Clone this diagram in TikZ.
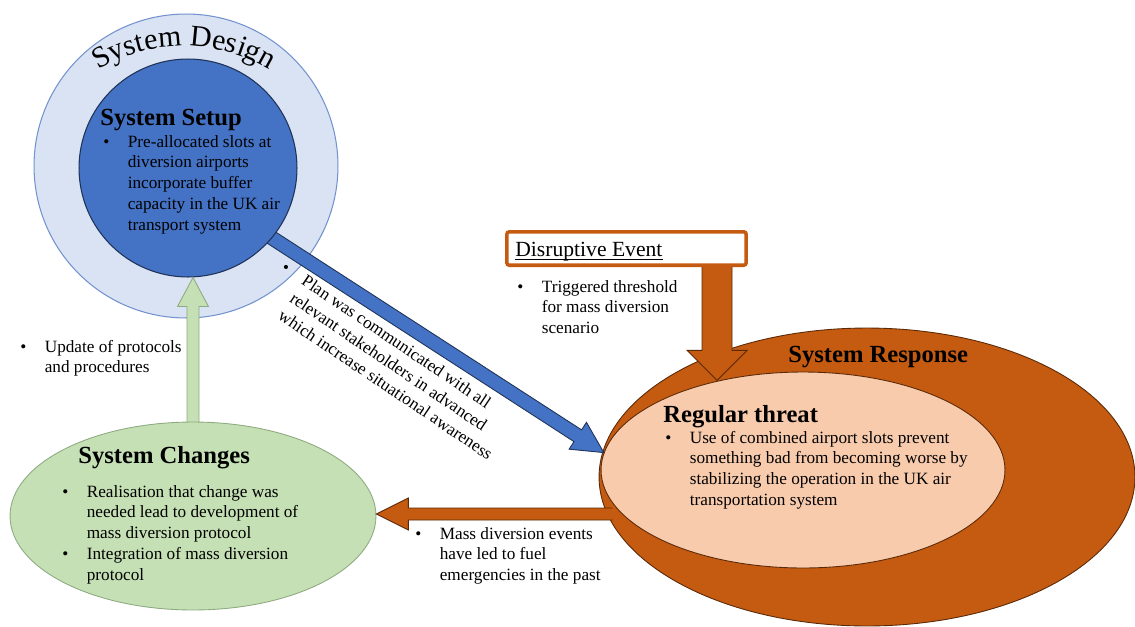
\documentclass[tikz,border=0pt]{standalone}
\usepackage{fontspec}
\setmainfont{Liberation Serif}
\usetikzlibrary{positioning, calc, shapes.geometric, decorations.text}

\definecolor{designfill}{HTML}{DAE3F3}
\definecolor{designdraw}{HTML}{7393CF}
\definecolor{setupblue}{HTML}{4472C4}
\definecolor{setupdraw}{HTML}{1F3358}
\definecolor{changefill}{HTML}{C5E0B4}
\definecolor{changedraw}{HTML}{8FAA80}
\definecolor{rust}{HTML}{C55A11}
\definecolor{rustdraw}{HTML}{5A2A08}
\definecolor{peach}{HTML}{F8CBAD}

% bullet list with hanging text
\newcommand{\blist}[1]{\begin{tabular}[t]{@{}p{0.49cm}@{}l@{}}#1\end{tabular}}
% block arrow: [style]{tail}{tip}{half shaft}{half head}{head length}
\newcommand{\blockarrow}[6][]{%
  \coordinate (ba-b) at ($(#3)!#6!(#2)$);
  \filldraw[#1] ($(#2)!#4!90:(#3)$) -- ($(ba-b)!#4!90:(#3)$) -- ($(ba-b)!#5!90:(#3)$)
    -- (#3) -- ($(ba-b)!#5!-90:(#3)$) -- ($(ba-b)!#4!-90:(#3)$) -- ($(#2)!#4!-90:(#3)$);
}

\begin{document}
\begin{tikzpicture}[
  x=0.02cm, y=0.02cm,
  ring/.style={circle, draw=designdraw, fill=designfill, line width=0.6pt, minimum size=6.08cm, inner sep=0pt},
  core/.style={circle, draw=setupdraw, fill=setupblue, line width=0.6pt, minimum size=4.36cm, inner sep=0pt},
  oval/.style={ellipse, draw=#1, line width=0.5pt, inner sep=0pt},
  eventbox/.style={draw=rust, fill=white, line width=2pt, rounded corners=1.5pt,
                   minimum width=4.79cm, minimum height=0.67cm, inner sep=0pt},
  head/.style={font=\fontsize{14}{16}\selectfont\bfseries, inner sep=0pt, anchor=base west},
  note/.style={font=\fontsize{9.8}{11.9}\selectfont, inner sep=0pt, anchor=base west},
  barr/.style={fill=setupblue, draw=setupdraw, line width=0.5pt},
  garr/.style={fill=changefill, draw=changedraw, line width=0.5pt},
  oarr/.style={fill=rust, draw=rustdraw, line width=0.5pt}
]
\useasboundingbox (0,0) rectangle (1135,-626);

% System design rings and the plan arrow
\node[ring] (design) at (186,-166) {};
\coordinate (btail) at (238,-216);
\node[oval=rustdraw, fill=rust, minimum width=10.72cm, minimum height=5.96cm] (response) at (867,-477) {};
\node[oval=rustdraw, fill=peach, minimum width=8.08cm, minimum height=3.92cm] (threat) at (803,-470) {};
\blockarrow[barr]{btail}{threat.175}{0.14cm}{0.32cm}{0.62cm}
\node[core] (setup) at (188,-168) {};

\path[decorate, decoration={text along path, text align=center,
      text format delimiters={|}{|}, text={|\fontsize{17}{20}\selectfont|System Design}}]
  ($(184,-211)+(133:165)$) arc[start angle=133, end angle=47, radius=165];

% Changes and feedback arrow
\coordinate (gtip) at ($(setup.south)+(5,0)$);
\coordinate (gtail) at (193,-480);
\blockarrow[garr]{gtail}{gtip}{0.12cm}{0.31cm}{0.58cm}
\node[oval=changedraw, fill=changefill, minimum width=7.32cm, minimum height=3.76cm] (changes) at (193,-516) {};

% Disruptive event
\coordinate (dtail) at (717,-250);
\coordinate (dtip) at (dtail |- threat.133);
\blockarrow[oarr]{dtail}{dtip}{0.30cm}{0.60cm}{0.60cm}
\node[eventbox] (event) at (626.5,-248.5) {};

% Response back to changes
\coordinate (ltail) at ($(response.west)+(14,-37)$);
\coordinate (ltip) at (ltail -| changes.east);
\blockarrow[oarr]{ltail}{ltip}{0.12cm}{0.32cm}{0.64cm}

% Titles
\node[head] (setuptitle) at (100,-125) {System Setup};
\node[head] (changestitle) at (78,-463) {System Changes};
\node[head] (responsetitle) at (788,-362) {System Response};
\node[head] (threattitle) at (663,-422) {Regular threat};
\node[inner sep=0pt, anchor=base west, font=\fontsize{12.3}{14}\selectfont] (eventtitle) at (515,-256)
  {Disruptive Event};
\draw[line width=0.5pt] ([yshift=-2.2pt]eventtitle.base west) -- ([yshift=-2.2pt]eventtitle.base east);

% Notes
\node[note] (setupnote) at (103,-147) {\blist{\textbullet & Pre-allocated slots at\\
  & diversion airports\\ & incorporate buffer\\ & capacity in the UK air\\ & transport system}};
\node[note] (updatenote) at (20,-352) {\blist{\textbullet & Update of protocols\\ & and procedures}};
\node[note] (changesnote) at (62,-497) {\blist{\textbullet & Realisation that change was\\
  & needed lead to development of\\ & mass diversion protocol\\
  \textbullet & Integration of mass diversion\\ & protocol}};
\node[note] (threatnote) at (665,-443) {\blist{\textbullet & Use of combined airport slots prevent\\
  & something bad from becoming worse by\\ & stabilizing the operation in the UK air\\
  & transportation system}};
\node[note] (eventnote) at (517,-292) {\blist{\textbullet & Triggered threshold\\ & for mass diversion\\ & scenario}};
\node[note] (massnote) at (415,-539) {\blist{\textbullet & Mass diversion events\\ & have led to fuel\\
  & emergencies in the past}};
\node[note, rotate=-34] (plannote) at (280,-270) {\blist{\textbullet & Plan was communicated with all\\
  & relevant stakeholders in advanced\\ & which increase situational awareness}};

\end{tikzpicture}
\end{document}
